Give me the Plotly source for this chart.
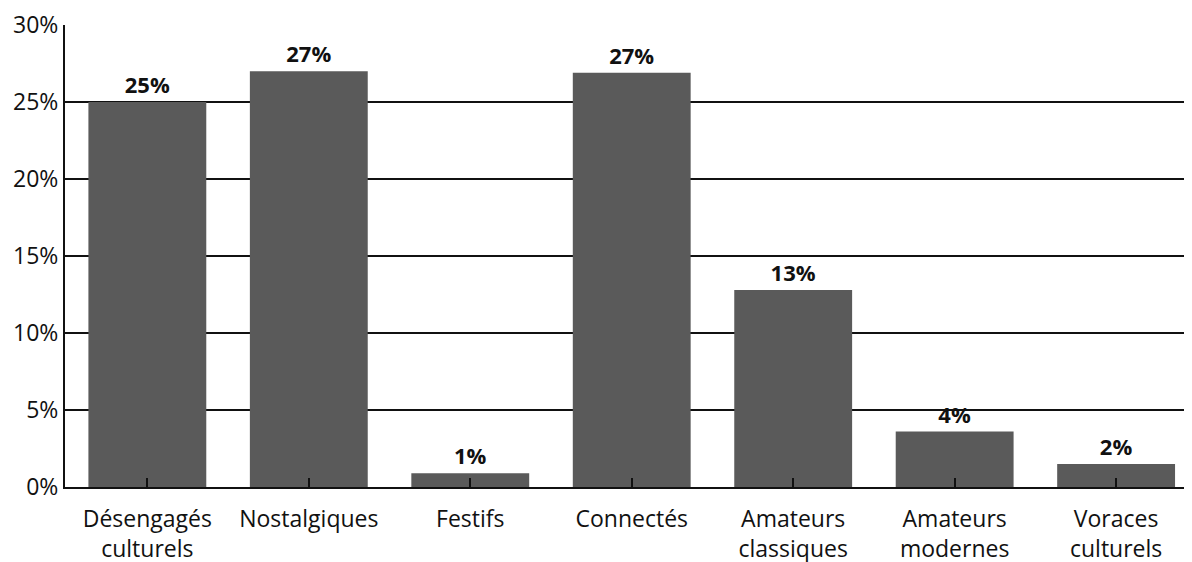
import plotly.graph_objects as go

categories = ["Désengagés<br>culturels", "Nostalgiques", "Festifs", "Connectés",
              "Amateurs<br>classiques", "Amateurs<br>modernes", "Voraces<br>culturels"]
values = [25, 27, 0.9, 26.9, 12.8, 3.6, 1.5]
value_labels = ["25%", "27%", "1%", "27%", "13%", "4%", "2%"]
y_ticks = [0, 5, 10, 15, 20, 25, 30]
y_tick_labels = ["0%", "5%", "10%", "15%", "20%", "25%", "30%"]

fig = go.Figure(go.Bar(
    x=list(range(len(categories))),
    y=values,
    text=value_labels,
    textposition="outside",
    textfont=dict(family="Open Sans", size=22, color="#111"),
    texttemplate="<b>%{text}</b>",
    cliponaxis=False,
    marker=dict(color="#5a5a5a", line=dict(width=0)),
    width=0.73,
))

fig.update_layout(
    width=1184, height=554,
    margin=dict(l=57, r=0, t=17, b=75),
    paper_bgcolor="white", plot_bgcolor="white",
    showlegend=False,
    font=dict(family="Open Sans", size=23, color="#111"),
)
fig.update_xaxes(
    range=[-0.51, 6.47],
    tickmode="array",
    tickvals=list(range(len(categories))),
    ticktext=categories,
    tickson="boundaries",
    ticks="inside", ticklen=9, tickwidth=2, tickcolor="#111",
    showline=True, linecolor="#111", linewidth=2,
    showgrid=False,
    tickfont=dict(size=23),
    ticklabelstandoff=10,
    automargin=False,
)
fig.update_yaxes(
    range=[0, 30],
    tickmode="array", tickvals=y_ticks, ticktext=y_tick_labels,
    showgrid=True, gridcolor="#111", gridwidth=2,
    showline=True, linecolor="#111", linewidth=2,
    ticks="", ticklabelstandoff=0,
    tickfont=dict(size=23),
    zeroline=False,
    automargin=False,
)

fig.write_html("out.html")
